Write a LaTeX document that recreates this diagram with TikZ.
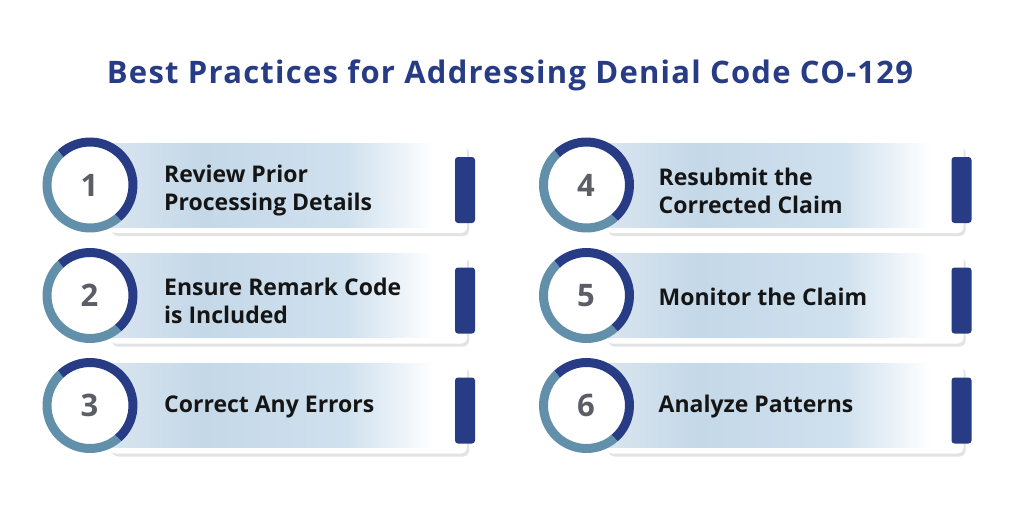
\documentclass[tikz,border=0pt]{standalone}
\usepackage{fontspec}
\setmainfont{Open Sans}
\newfontfamily\titlefont[LetterSpace=4]{Open Sans}
\usetikzlibrary{shadows}
\definecolor{dblue}{HTML}{283C85}
\definecolor{lring}{HTML}{6290AA}
\definecolor{numgray}{HTML}{5B5E66}
\definecolor{txt}{HTML}{151515}
\definecolor{cA}{HTML}{DCE7F1}
\definecolor{cB}{HTML}{C4D8E8}
\definecolor{cC}{HTML}{D0E1EE}
\pgfdeclarehorizontalshading{cardshade}{100bp}{color(0bp)=(cA); color(25bp)=(cA); color(40bp)=(cB); color(60bp)=(cC); color(72bp)=(white); color(75bp)=(white); color(100bp)=(white)}
\tikzset{
  cardback/.style={fill=white, rounded corners=6pt, drop shadow={shadow xshift=2pt, shadow yshift=-3pt, opacity=0.18, fill=black!60}},
  cardband/.style={shading=cardshade, draw=none},
  tabbox/.style={fill=dblue, rounded corners=3pt},
  numtxt/.style={text=numgray, font=\bfseries\fontsize{31}{31}\selectfont},
  steptxt/.style={text=txt, anchor=west, align=left, inner sep=0pt, font=\bfseries\fontsize{23}{28}\selectfont},
  ringdark/.style={draw=dblue, line width=9pt},
  ringlight/.style={draw=lring, line width=9pt},
}
\newcommand{\mycard}[7]{%
  % #1 name, #2 cx, #3 cy, #4 number, #5 text, #6 text y offset, #7 text x offset
  \path[cardback] (#2+20,#3-41) rectangle (#2+377,#3+48);
  \path[cardband] (#2+5,#3-42) rectangle (#2+366,#3+42);
  \path[tabbox] (#2+365,#3-28) rectangle (#2+385,#3+38);
  \fill[white] (#2,#3) circle (44);
  \draw[ringlight] ([shift={(49:43)}]#2,#3) arc (49:227:43);
  \draw[ringdark] ([shift={(-133:43)}]#2,#3) arc (-133:49:43);
  \node[numtxt] (#1n) at (#2-0.5,#3) {#4};
  \node[steptxt] (#1t) at (#2+#7,#3+#6) {#5};
}
\begin{document}
\begin{tikzpicture}[x=1pt,y=-1pt]
\useasboundingbox[fill=white] (0,0) rectangle (1024,527);
\node[text=dblue, font=\titlefont\bfseries\fontsize{31}{31}\selectfont, anchor=base] (title) at (510,83) {Best Practices for Addressing Denial Code CO-129};
\mycard{s1}{90}{185}{1}{Review Prior\\Processing Details}{5.5}{74}
\mycard{s2}{90}{295.5}{2}{Ensure Remark Code\\is Included}{5.5}{74}
\mycard{s3}{90}{405.5}{3}{Correct Any Errors}{1.5}{74}
\mycard{s4}{586.5}{185}{4}{Resubmit the\\Corrected Claim}{5.5}{72}
\mycard{s5}{586.5}{295.5}{5}{Monitor the Claim}{1.5}{72}
\mycard{s6}{586.5}{405.5}{6}{Analyze Patterns}{1.5}{72}
\end{tikzpicture}
\end{document}
